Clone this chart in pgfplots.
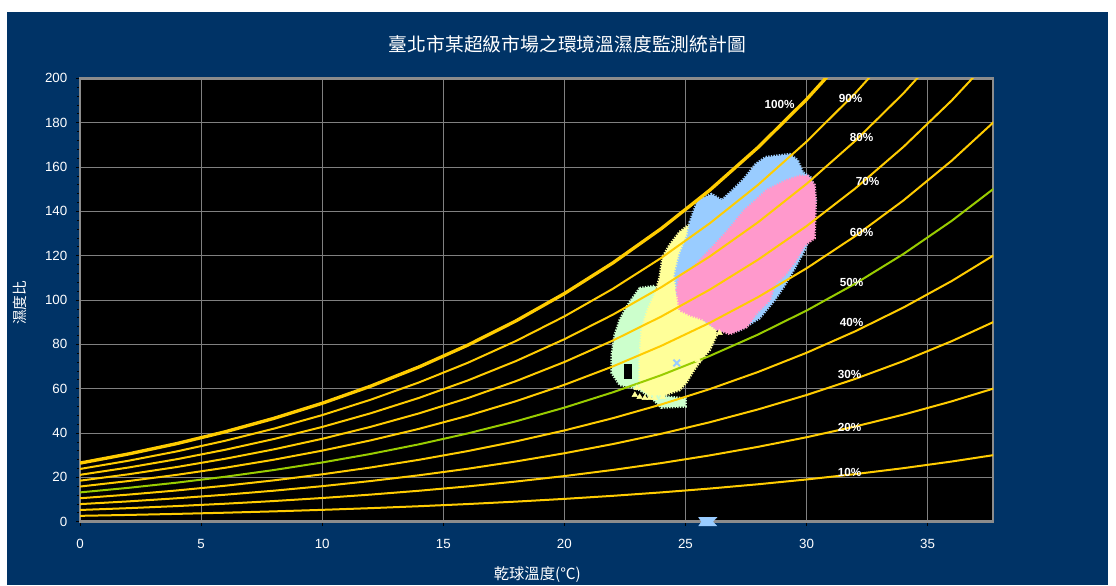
\documentclass[border=0pt]{standalone}
\usepackage{pgfplots}
\pgfplotsset{compat=1.18}
\usepackage{fontspec}
\setmainfont{Liberation Sans}
\newfontfamily\cjk{Noto Sans CJK TC}
\definecolor{navy}{HTML}{003366}
\definecolor{goldc}{HTML}{FFCC00}
\definecolor{greenl}{HTML}{99CC00}
\definecolor{mintc}{HTML}{CCFFCC}
\definecolor{yellc}{HTML}{FFFF99}
\definecolor{bluec}{HTML}{99CCFF}
\definecolor{pinkc}{HTML}{FF99CC}
\definecolor{framec}{HTML}{8C8C8C}
\tikzset{pctlab/.style={font=\bfseries\fontsize{8.8}{10}\selectfont, text=white},
  cloud/.style={fill=#1, draw=#1, line width=2pt, dash pattern=on 1pt off 1pt}}
\pgfplotsset{mygeom/.style={scale only axis, width=684.75pt, height=332.55pt,
  at={(60pt,47.475pt)}, anchor=south west, xmin=0, xmax=37.7, ymin=0, ymax=200}}
\begin{document}
\begin{tikzpicture}
\path[use as bounding box] (0,0) rectangle (837pt,438.75pt);
\fill[white] (0,0) rectangle (837pt,438.75pt);
\fill[navy] (5.25pt,0) rectangle (831pt,429.75pt);
\begin{axis}[mygeom,
  axis background/.style={fill=black},
  axis line style={draw=framec, line width=2pt},
  xtick={0,5,...,35}, ytick={0,20,...,200}, minor y tick num=4,
  xtick pos=left, ytick pos=left, tick align=outside,
  major tick length=3pt, minor tick length=2pt,
  every tick/.style={black, line width=0.5pt},
  grid=major, major grid style={draw=gray, line width=0.6pt},
  ticklabel style={font=\fontsize{10}{12}\selectfont, text=white},
  /pgf/number format/assume math mode=true,
  xticklabel style={yshift=-6.5pt}, yticklabel style={xshift=-3pt}]
% scatter clouds
\addplot[cloud=mintc] coordinates {
(23.11,105.32)(23.73,106.32)(23.94,100.01)(23.94,63.92)(24.15,56.5)(25.0,55.5)(25.0,52.0)
(24.0,51.5)(23.6,56.0)(23.1,59.5)(22.83,60.5)(22.29,61.67)(21.96,67.08)(21.96,75.20)(22.08,84.22)
(22.29,90.99)(22.62,97.75)} -- cycle;
\addplot[fill=black, draw=none] coordinates {(22.45,64.5)(22.78,64.5)(22.78,71.0)(22.45,71.0)} -- cycle;
\addplot[cloud=yellc] coordinates {
(25.30,135.09)(25.59,136.90)(25.71,129.23)(25.59,117.95)(25.26,109.93)(25.59,100.01)(26.21,90.99)
(26.29,84.22)(26.00,77.46)(25.59,72.05)(25.30,67.53)(25.05,63.02)(24.76,59.41)(24.14,57.16)
(23.52,57.16)(23.11,60.32)(23.11,72.95)(23.19,86.48)(23.44,95.50)(23.73,102.27)(23.94,110.38)
(24.06,119.41)(24.35,124.82)(24.76,130.68)} -- cycle;
\addplot[only marks, mark=triangle*, mark size=2.4pt, mark options={fill=yellc, draw=yellc}] coordinates {
(22.99,60.31)(22.91,57.16)(23.11,56.25)(23.32,55.80)(23.52,55.80)(23.73,55.80)(24.06,56.25)
(24.35,60.31)(26.41,85.13)(25.51,72.95)};
\addplot[cloud=bluec] coordinates {
(25.18,135.09)(25.51,145.01)(26.08,147.72)(26.50,145.01)(26.95,149.52)(27.44,154.94)(27.90,161.25)
(28.31,164.41)(29.30,165.76)(29.63,163.06)(29.84,157.64)(30.21,154.94)(30.38,145.01)(30.21,130.59)
(29.92,122.47)(29.51,114.35)(29.10,106.68)(28.68,99.92)(28.06,91.80)(27.24,86.39)(26.41,86.39)
(25.79,90.90)(25.18,97.66)(24.68,102.17)(24.56,111.19)(24.76,120.21)(25.09,129.23)} -- cycle;
\addplot[cloud=pinkc] coordinates {
(24.64,104.42)(24.76,111.19)(25.30,114.35)(26.00,122.47)(26.70,130.59)(27.44,140.51)(27.78,143.67)
(28.35,149.52)(29.18,154.04)(29.72,155.93)(30.05,155.93)(30.33,151.87)(30.38,145.01)(30.33,127.87)
(29.92,124.71)(29.51,117.04)(29.10,111.28)(28.68,106.77)(28.48,100.01)(27.94,94.15)(27.53,87.83)
(26.83,84.67)(26.33,86.48)(25.79,90.99)(25.18,93.24)(24.76,95.50)} -- cycle;
\addplot[only marks, mark=x, mark size=3.5pt, mark options={draw=bluec, line width=1.5pt}] coordinates {(24.64,71.59)};
% relative humidity curves
\addplot[goldc, line width=1.5pt] coordinates {(0,2.643)(2,3.055)(4,3.524)(6,4.057)(8,4.660)(10,5.342)(12,6.113)(14,6.981)(16,7.958)(18,9.057)(20,10.289)(22,11.671)(24,13.219)(26,14.950)(28,16.885)(30,19.047)(32,21.458)(34,24.150)(36,27.150)(38,30.496)};
\addplot[goldc, line width=1.5pt] coordinates {(0,5.286)(2,6.110)(4,7.048)(6,8.114)(8,9.320)(10,10.684)(12,12.226)(14,13.962)(16,15.916)(18,18.114)(20,20.578)(22,23.342)(24,26.438)(26,29.900)(28,33.770)(30,38.094)(32,42.916)(34,48.300)(36,54.300)(38,60.992)};
\addplot[goldc, line width=1.5pt] coordinates {(0,7.929)(2,9.165)(4,10.572)(6,12.171)(8,13.980)(10,16.026)(12,18.339)(14,20.943)(16,23.874)(18,27.171)(20,30.867)(22,35.013)(24,39.657)(26,44.850)(28,50.655)(30,57.141)(32,64.374)(34,72.450)(36,81.450)(38,91.488)};
\addplot[goldc, line width=1.5pt] coordinates {(0,10.572)(2,12.220)(4,14.096)(6,16.228)(8,18.640)(10,21.368)(12,24.452)(14,27.924)(16,31.832)(18,36.228)(20,41.156)(22,46.684)(24,52.876)(26,59.800)(28,67.540)(30,76.188)(32,85.832)(34,96.600)(36,108.600)(38,121.984)};
\addplot[greenl, line width=1.5pt] coordinates {(0,13.215)(2,15.275)(4,17.620)(6,20.285)(8,23.300)(10,26.710)(12,30.565)(14,34.905)(16,39.790)(18,45.285)(20,51.445)(22,58.355)(24,66.095)(26,74.750)(28,84.425)(30,95.235)(32,107.290)(34,120.750)(36,135.750)(38,152.480)};
\addplot[goldc, line width=1.5pt] coordinates {(0,15.858)(2,18.330)(4,21.144)(6,24.342)(8,27.960)(10,32.052)(12,36.678)(14,41.886)(16,47.748)(18,54.342)(20,61.734)(22,70.026)(24,79.314)(26,89.700)(28,101.310)(30,114.282)(32,128.748)(34,144.900)(36,162.900)(38,182.976)};
\addplot[goldc, line width=1.5pt] coordinates {(0,18.501)(2,21.385)(4,24.668)(6,28.399)(8,32.620)(10,37.394)(12,42.791)(14,48.867)(16,55.706)(18,63.399)(20,72.023)(22,81.697)(24,92.533)(26,104.650)(28,118.195)(30,133.329)(32,150.206)(34,169.050)(36,190.050)(38,213.472)};
\addplot[goldc, line width=1.5pt] coordinates {(0,21.144)(2,24.440)(4,28.192)(6,32.456)(8,37.280)(10,42.736)(12,48.904)(14,55.848)(16,63.664)(18,72.456)(20,82.312)(22,93.368)(24,105.752)(26,119.600)(28,135.080)(30,152.376)(32,171.664)(34,193.200)(36,217.200)};
\addplot[goldc, line width=1.5pt] coordinates {(0,23.787)(2,27.495)(4,31.716)(6,36.513)(8,41.940)(10,48.078)(12,55.017)(14,62.829)(16,71.622)(18,81.513)(20,92.601)(22,105.039)(24,118.971)(26,134.550)(28,151.965)(30,171.423)(32,193.122)(34,217.350)};
\addplot[goldc, line width=2.5pt] coordinates {(0,26.43)(2,30.55)(4,35.24)(6,40.57)(8,46.60)(10,53.42)(12,61.13)(14,69.81)(16,79.58)(18,90.57)(20,102.89)(22,116.71)(24,132.19)(26,149.50)(28,168.85)(30,190.47)(32,214.58)};
% labels
\node[pctlab] at (axis cs:28.89,188.4) {100\%};
\node[pctlab] at (axis cs:31.82,191.1) {90\%};
\node[pctlab] at (axis cs:32.27,173.5) {80\%};
\node[pctlab] at (axis cs:32.52,153.6) {70\%};
\node[pctlab] at (axis cs:32.27,130.3) {60\%};
\node[pctlab] at (axis cs:31.86,107.7) {50\%};
\node[pctlab] at (axis cs:31.86,89.9) {40\%};
\node[pctlab] at (axis cs:31.78,66.2) {30\%};
\node[pctlab] at (axis cs:31.78,42.7) {20\%};
\node[pctlab] at (axis cs:31.78,22.0) {10\%};
\end{axis}
\begin{axis}[mygeom, hide axis, clip=false]
\addplot[fill=bluec, draw=bluec] coordinates {(25.55,1.9)(26.29,1.9)(26.12,0)(26.29,-1.9)(25.55,-1.9)(25.67,0)} -- cycle;
\end{axis}
\node[text=white, font=\cjk\fontsize{14.1}{17}\selectfont] at (425.6pt,405.75pt) {臺北市某超級市場之環境溫濕度監測統計圖};
\node[text=white, font=\cjk\fontsize{11.5}{14}\selectfont] at (403pt,7.5pt) {乾球溫度(℃)};
\node[text=white, font=\cjk\fontsize{11}{13}\selectfont, rotate=90] at (15pt,211.5pt) {濕度比};
\end{tikzpicture}
\end{document}
